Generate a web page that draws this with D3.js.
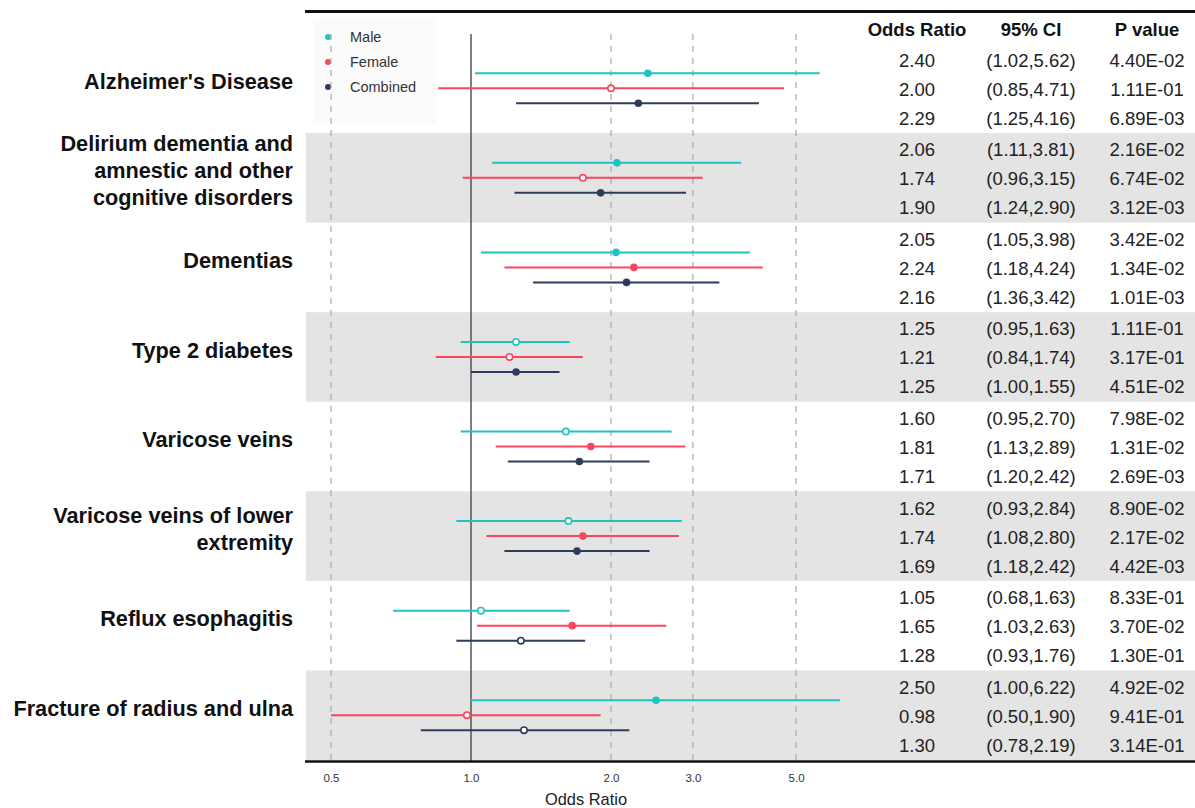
<!DOCTYPE html>
<html>
<head>
<meta charset="utf-8">
<script src="https://cdn.jsdelivr.net/npm/d3@7"></script>
<style>
  body { margin: 0; background: #fff; }
  svg { display: block; font-family: "Liberation Sans", Arial, sans-serif; }
</style>
</head>
<body>
<svg id="forest" width="1195" height="808"></svg>
<script>
// 疾患名 (グループ)
const groups = [
    "Alzheimer's Disease",
    "Delirium dementia and amnestic and other cognitive disorders",
    "Dementias",
    "Type 2 diabetes",
    "Varicose veins",
    "Varicose veins of lower extremity",
    "Reflux esophagitis",
    "Fracture of radius and ulna"
];
const groupLines = [
    ["Alzheimer's Disease"],
    ["Delirium dementia and", "amnestic and other", "cognitive disorders"],
    ["Dementias"],
    ["Type 2 diabetes"],
    ["Varicose veins"],
    ["Varicose veins of lower", "extremity"],
    ["Reflux esophagitis"],
    ["Fracture of radius and ulna"]
];

const series = ["Male", "Female", "Combined"];
const seriesColors = ["#1fc4bf", "#f8465c", "#2f3b5a"];

const maleOR = [2.40, 2.06, 2.05, 1.25, 1.60, 1.62, 1.05, 2.50];
const maleLow = [1.02, 1.11, 1.05, 0.95, 0.95, 0.93, 0.68, 1.00];
const maleHigh = [5.62, 3.81, 3.98, 1.63, 2.70, 2.84, 1.63, 6.22];
const maleP = ["4.40E-02", "2.16E-02", "3.42E-02", "1.11E-01", "7.98E-02", "8.90E-02", "8.33E-01", "4.92E-02"];

const femaleOR = [2.00, 1.74, 2.24, 1.21, 1.81, 1.74, 1.65, 0.98];
const femaleLow = [0.85, 0.96, 1.18, 0.84, 1.13, 1.08, 1.03, 0.50];
const femaleHigh = [4.71, 3.15, 4.24, 1.74, 2.89, 2.80, 2.63, 1.90];
const femaleP = ["1.11E-01", "6.74E-02", "1.34E-02", "3.17E-01", "1.31E-02", "2.17E-02", "3.70E-02", "9.41E-01"];

const combinedOR = [2.29, 1.90, 2.16, 1.25, 1.71, 1.69, 1.28, 1.30];
const combinedLow = [1.25, 1.24, 1.36, 1.00, 1.20, 1.18, 0.93, 0.78];
const combinedHigh = [4.16, 2.90, 3.42, 1.55, 2.42, 2.42, 1.76, 2.19];
const combinedP = ["6.89E-03", "3.12E-03", "1.01E-03", "4.51E-02", "2.69E-03", "4.42E-03", "1.30E-01", "3.14E-01"];

const xTicks = [0.5, 1, 2, 3, 5];
const tableHeaders = ["Odds Ratio", "95% CI", "P value"];

const seriesData = [
    [maleOR, maleLow, maleHigh, maleP],
    [femaleOR, femaleLow, femaleHigh, femaleP],
    [combinedOR, combinedLow, combinedHigh, combinedP]
];

let rows = [];
groups.forEach((g, gi) => {
    series.forEach((s, si) => {
        const d = seriesData[si];
        rows.push({ group: g, series: s, si: si, or: d[0][gi], low: d[1][gi], high: d[2][gi], p: d[3][gi] });
    });
});

const svg = d3.select("#forest");
const W = 1195;
const plotLeft = 306, plotRight = 860;
const plotTop = 43.5, plotBottom = 760;

const x = d3.scaleLog().domain([0.5, 2]).range([331, 611]);
const y = d3.scaleBand().domain(groups).range([plotTop, plotBottom]);
const yIn = d3.scalePoint().domain(series).range([-15, 15]);
const yTab = d3.scalePoint().domain(series).range([-28, 30]);
const cy = (d) => y(d.group) + y.bandwidth() / 2;

// 背景の帯
svg.append("g")
    .selectAll("rect")
    .data(groups.filter((g, i) => i % 2 === 1))
    .join("rect")
    .attr("x", plotLeft)
    .attr("y", (g) => y(g))
    .attr("width", W - plotLeft)
    .attr("height", y.bandwidth())
    .attr("fill", "#e4e4e4");

// 凡例
const legend = svg.append("g");
legend.append("rect")
    .attr("x", 313).attr("y", 18).attr("width", 123).attr("height", 107)
    .attr("fill", "#fcfbfb");
series.forEach((s, i) => {
    legend.append("circle")
        .attr("cx", 328).attr("cy", 37 + i * 25).attr("r", 3)
        .attr("fill", seriesColors[i]);
    legend.append("text")
        .attr("x", 350).attr("y", 37 + i * 25).attr("dy", "0.35em")
        .attr("font-size", 14.5).attr("fill", "#333")
        .text(s);
});

// グリッド線
svg.append("g")
    .selectAll("line")
    .data(xTicks.filter((t) => t !== 1))
    .join("line")
    .attr("x1", (t) => x(t)).attr("x2", (t) => x(t))
    .attr("y1", 34).attr("y2", 761)
    .attr("stroke", "#aaa")
    .attr("stroke-width", 1.2)
    .attr("stroke-dasharray", "6,6");

svg.append("line")
    .attr("x1", x(1)).attr("x2", x(1))
    .attr("y1", 34).attr("y2", 761)
    .attr("stroke", "#555")
    .attr("stroke-width", 1.5);

// 信頼区間
const color = d3.scaleOrdinal().domain(series).range(seriesColors);
svg.append("g")
    .selectAll("line")
    .data(rows)
    .join("line")
    .attr("x1", (d) => x(d.low))
    .attr("x2", (d) => x(d.high))
    .attr("y1", (d) => cy(d) + yIn(d.series))
    .attr("y2", (d) => cy(d) + yIn(d.series))
    .attr("stroke", (d) => color(d.series))
    .attr("stroke-width", 2);

// 点 (p < 0.05 は塗りつぶし)
svg.append("g")
    .selectAll("circle")
    .data(rows)
    .join("circle")
    .attr("cx", (d) => x(d.or))
    .attr("cy", (d) => cy(d) + yIn(d.series))
    .attr("r", (d) => (+d.p < 0.05 ? 3.8 : 3.2))
    .attr("fill", (d) => (+d.p < 0.05 ? color(d.series) : "#fff"))
    .attr("stroke", (d) => color(d.series))
    .attr("stroke-width", (d) => (+d.p < 0.05 ? 0 : 1.6));

// x 軸
const xAxis = svg.append("g").attr("transform", `translate(0, ${plotBottom})`);
xAxis.call(d3.axisBottom(x).tickValues(xTicks).tickFormat(d3.format(".1f")).tickSize(0).tickPadding(14));
xAxis.select(".domain").remove();
xAxis.attr("font-size", 11.5).attr("font-family", null);
xAxis.selectAll("text").attr("fill", "#333");

svg.append("text")
    .attr("x", (plotLeft + plotRight) / 2 + 3).attr("y", 799).attr("dy", "0.35em")
    .attr("text-anchor", "middle")
    .attr("font-size", 16.4).attr("fill", "#222")
    .text("Odds Ratio");

// 疾患ラベル
const labels = svg.append("g");
groups.forEach((g, gi) => {
    const lines = groupLines[gi];
    const c = y(g) + y.bandwidth() / 2 - 7;
    lines.forEach((ln, li) => {
        labels.append("text")
            .attr("x", 293)
            .attr("y", c + (li - (lines.length - 1) / 2) * 27)
            .attr("dy", "0.35em")
            .attr("text-anchor", "end")
            .attr("font-size", 21.7)
            .attr("font-weight", "bold")
            .attr("fill", "#111")
            .text(ln);
    });
});

// 表
const colX = [917, 1031, 1147];
tableHeaders.forEach((h, i) => {
    svg.append("text")
        .attr("x", colX[i]).attr("y", 30).attr("dy", "0.35em")
        .attr("text-anchor", "middle")
        .attr("font-size", 18.5).attr("font-weight", "bold").attr("fill", "#111")
        .text(h);
});
const fmt = d3.format(".2f");
const cells = svg.append("g")
    .selectAll("g")
    .data(rows)
    .join("g")
    .attr("transform", (d) => `translate(0, ${cy(d) + yTab(d.series)})`);
cells.append("text").attr("x", colX[0]).text((d) => fmt(d.or));
cells.append("text").attr("x", colX[1]).text((d) => `(${fmt(d.low)},${fmt(d.high)})`);
cells.append("text").attr("x", colX[2]).text((d) => d.p);
cells.selectAll("text")
    .attr("dy", "0.35em")
    .attr("text-anchor", "middle")
    .attr("font-size", 18.5)
    .attr("fill", "#222");

// 上下の黒線
svg.append("line")
    .attr("x1", 305).attr("x2", W).attr("y1", 11.5).attr("y2", 11.5)
    .attr("stroke", "#111").attr("stroke-width", 3);
svg.append("line")
    .attr("x1", 305).attr("x2", W).attr("y1", 761.5).attr("y2", 761.5)
    .attr("stroke", "#111").attr("stroke-width", 2.5);
</script>
</body>
</html>
